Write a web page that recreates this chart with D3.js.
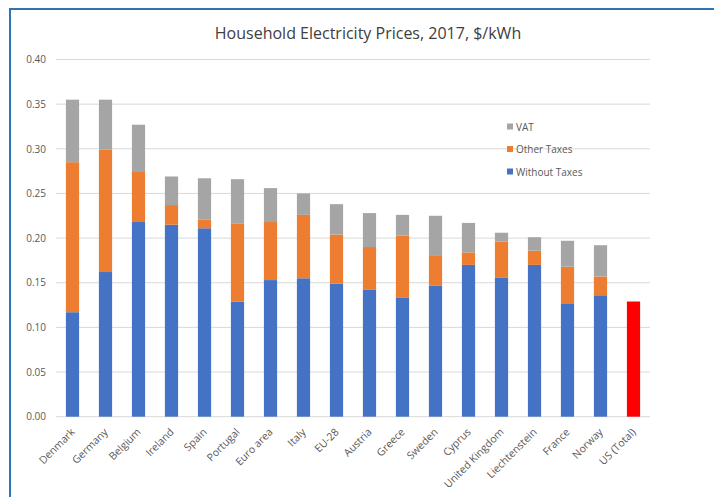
<!DOCTYPE html>
<html>
<head>
<meta charset="utf-8">
<script src="https://cdn.jsdelivr.net/npm/d3@7"></script>
<style>
  body { margin: 0; background: #fff; }
  svg { display: block; font-family: "Open Sans", sans-serif; }
</style>
</head>
<body>
<script>

// categories
var countries = ["Denmark", "Germany", "Belgium", "Ireland", "Spain", "Portugal", "Euro area", "Italy", "EU-28",
  "Austria", "Greece", "Sweden", "Cyprus", "United Kingdom", "Liechtenstein", "France", "Norway", "US (Total)"];

// series values ($/kWh)
var withoutTaxes = [0.117, 0.162, 0.218, 0.215, 0.211, 0.129, 0.153, 0.155, 0.149,
  0.142, 0.133, 0.147, 0.170, 0.156, 0.170, 0.127, 0.136, 0.129];
var otherTaxes = [0.168, 0.137, 0.056, 0.022, 0.010, 0.087, 0.065, 0.071, 0.055,
  0.048, 0.070, 0.033, 0.014, 0.040, 0.016, 0.041, 0.021, 0];
var vat = [0.070, 0.056, 0.053, 0.032, 0.046, 0.050, 0.038, 0.024, 0.034,
  0.038, 0.023, 0.045, 0.033, 0.010, 0.015, 0.029, 0.035, 0];

// tick labels
var yTicks = [0, 0.05, 0.10, 0.15, 0.20, 0.25, 0.30, 0.35, 0.40];

var seriesNames = ["Without Taxes", "Other Taxes", "VAT"];
var colors = { "Without Taxes": "#4472c4", "Other Taxes": "#ed7d31", "VAT": "#a5a5a5" };
var usColor = "#ff0000";

var width = 714;
var height = 497;
// plot area edges
var plotLeft = 56, plotRight = 650, plotTop = 59.5, plotBottom = 416.7;

var svg = d3.select("body").append("svg").attr("width", width).attr("height", height);

// blue frame of the chart object (right and bottom edges run off the picture)
svg.append("rect")
  .attr("x", 10).attr("y", 9)
  .attr("width", 730).attr("height", 510)
  .attr("fill", "none")
  .attr("stroke", "#2e75b6")
  .attr("stroke-width", 2);

// build table for the stack
var table = countries.map(function (c, i) {
  return { country: c, "Without Taxes": withoutTaxes[i], "Other Taxes": otherTaxes[i], "VAT": vat[i] };
});
var stacked = d3.stack().keys(seriesNames)(table);

// scales
var x = d3.scaleBand().domain(countries).range([plotLeft, plotRight]).paddingInner(0.6).paddingOuter(0.3);
var y = d3.scaleLinear().domain([0, 0.4]).range([plotBottom, plotTop]);

// gridlines
svg.append("g")
  .selectAll("line")
  .data(yTicks)
  .enter()
  .append("line")
  .attr("x1", plotLeft).attr("x2", plotRight)
  .attr("y1", function (d) { return y(d); })
  .attr("y2", function (d) { return y(d); })
  .attr("stroke", "#d9d9d9")
  .attr("stroke-width", 1);

// y axis labels
var yAxis = d3.axisLeft(y).tickValues(yTicks).tickFormat(d3.format(".2f")).tickSize(0).tickPadding(10);
var gy = svg.append("g").attr("transform", "translate(" + plotLeft + ",0)").call(yAxis);
gy.select(".domain").remove();
gy.selectAll("text").attr("fill", "#595959").attr("font-size", "10px").attr("font-family", "Open Sans");

// stacked bars
svg.append("g")
  .selectAll("g")
  .data(stacked)
  .enter()
  .append("g")
  .attr("fill", function (d) { return colors[d.key]; })
  .selectAll("rect")
  .data(function (d) { return d; })
  .enter()
  .append("rect")
  .attr("x", function (d) { return x(d.data.country); })
  .attr("width", x.bandwidth())
  .attr("y", function (d) { return y(d[1]); })
  .attr("height", function (d) { return y(d[0]) - y(d[1]); })
  // the US total is drawn in red
  .attr("fill", function (d) { return d.data.country == "US (Total)" ? usColor : null; });

// x axis labels, rotated
var xAxis = d3.axisBottom(x).tickSize(0).tickPadding(0);
var gx = svg.append("g").attr("transform", "translate(0," + plotBottom + ")").call(xAxis);
gx.select(".domain").remove();
gx.selectAll("text")
  .attr("fill", "#595959")
  .attr("font-size", "10.5px")
  .attr("font-family", "Open Sans")
  .attr("text-anchor", "end")
  .attr("dy", "0")
  .attr("transform", "translate(3,16) rotate(-45)");

// legend
var legend = svg.append("g")
  .selectAll("g")
  .data(["VAT", "Other Taxes", "Without Taxes"])
  .enter()
  .append("g")
  .attr("transform", function (d, i) { return "translate(507," + (127 + i * 22.5) + ")"; });

legend.append("rect")
  .attr("x", 0).attr("y", -3.5)
  .attr("width", 6).attr("height", 6)
  .attr("fill", function (d) { return colors[d]; });

legend.append("text")
  .attr("x", 9).attr("y", 3.5)
  .attr("fill", "#595959")
  .attr("font-size", "10px")
  .text(function (d) { return d; });

// title
svg.append("text")
  .attr("x", 368).attr("y", 39)
  .attr("text-anchor", "middle")
  .attr("fill", "#404040")
  .attr("font-size", "16px")
  .text("Household Electricity Prices, 2017, $/kWh");

</script>
</body>
</html>
